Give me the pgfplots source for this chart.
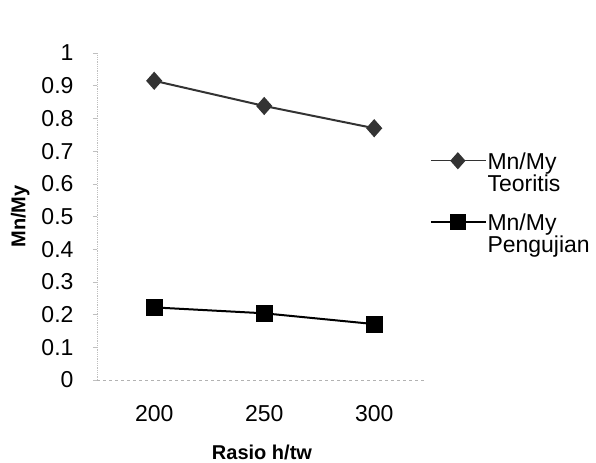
\documentclass[border=0pt]{standalone}
\usepackage{pgfplots}
\pgfplotsset{compat=1.18}
\usepackage{fontspec}
\setmainfont{Liberation Sans}
\begin{document}
\begin{tikzpicture}
\begin{axis}[
  at={(0pt,0pt)}, anchor=south west,
  scale only axis, width=330pt, height=327pt,
  xmin=-0.52, xmax=2.48, ymin=0, ymax=1,
  xtick={0,1,2}, xticklabels={200,250,300},
  ytick={0,0.1,0.2,0.3,0.4,0.5,0.6,0.7,0.8,0.9,1},
  yticklabels={0,0.1,0.2,0.3,0.4,0.5,0.6,0.7,0.8,0.9,1},
  axis lines*=left,
  x axis line style={gray!60, dashed, line width=0.8pt},
  y axis line style={gray!50, densely dotted, line width=0.8pt},
  major tick length=4pt,
  xtick style={draw=none},
  ytick style={gray!50, line width=0.6pt},
  tick align=outside,
  ticklabel style={font=\fontsize{23}{26}\selectfont, text=black},
  yticklabel style={xshift=-16pt},
  xticklabel style={yshift=-18pt},
  /pgf/number format/assume math mode=true,
  xlabel={\textbf{Rasio h/tw}},
  ylabel={\textbf{Mn/My}},
  label style={font=\fontsize{20}{24}\selectfont},
  xlabel style={yshift=-16pt},
  ylabel style={yshift=5pt},
  legend style={at={(1,0.705)}, anchor=north west, draw=none, fill=none,
    font=\fontsize{23}{22}\selectfont, row sep=19pt,
    nodes={align=left, inner sep=1pt}},
  legend cell align=left,
  legend image code/.code={
    \draw[mark repeat=2,mark phase=2,#1,line width=1.3pt] plot coordinates {(0pt,12pt) (27pt,12pt) (55pt,12pt)};},
]
\addplot[color=black!80, line width=2pt, mark=diamond*, mark size=9pt,
  mark options={solid, fill=black!80, yscale=0.85}]
  coordinates {(0,0.915) (1,0.838) (2,0.770)};
\addlegendentry{Mn/My\\Teoritis}
\addplot[color=black, line width=2pt, mark=square*, mark size=7.5pt,
  mark options={solid, fill=black}]
  coordinates {(0,0.222) (1,0.204) (2,0.171)};
\addlegendentry{Mn/My\\Pengujian}
\end{axis}
\path[use as bounding box] (-97pt,-82pt) rectangle (499pt,380pt);
\end{tikzpicture}
\end{document}
